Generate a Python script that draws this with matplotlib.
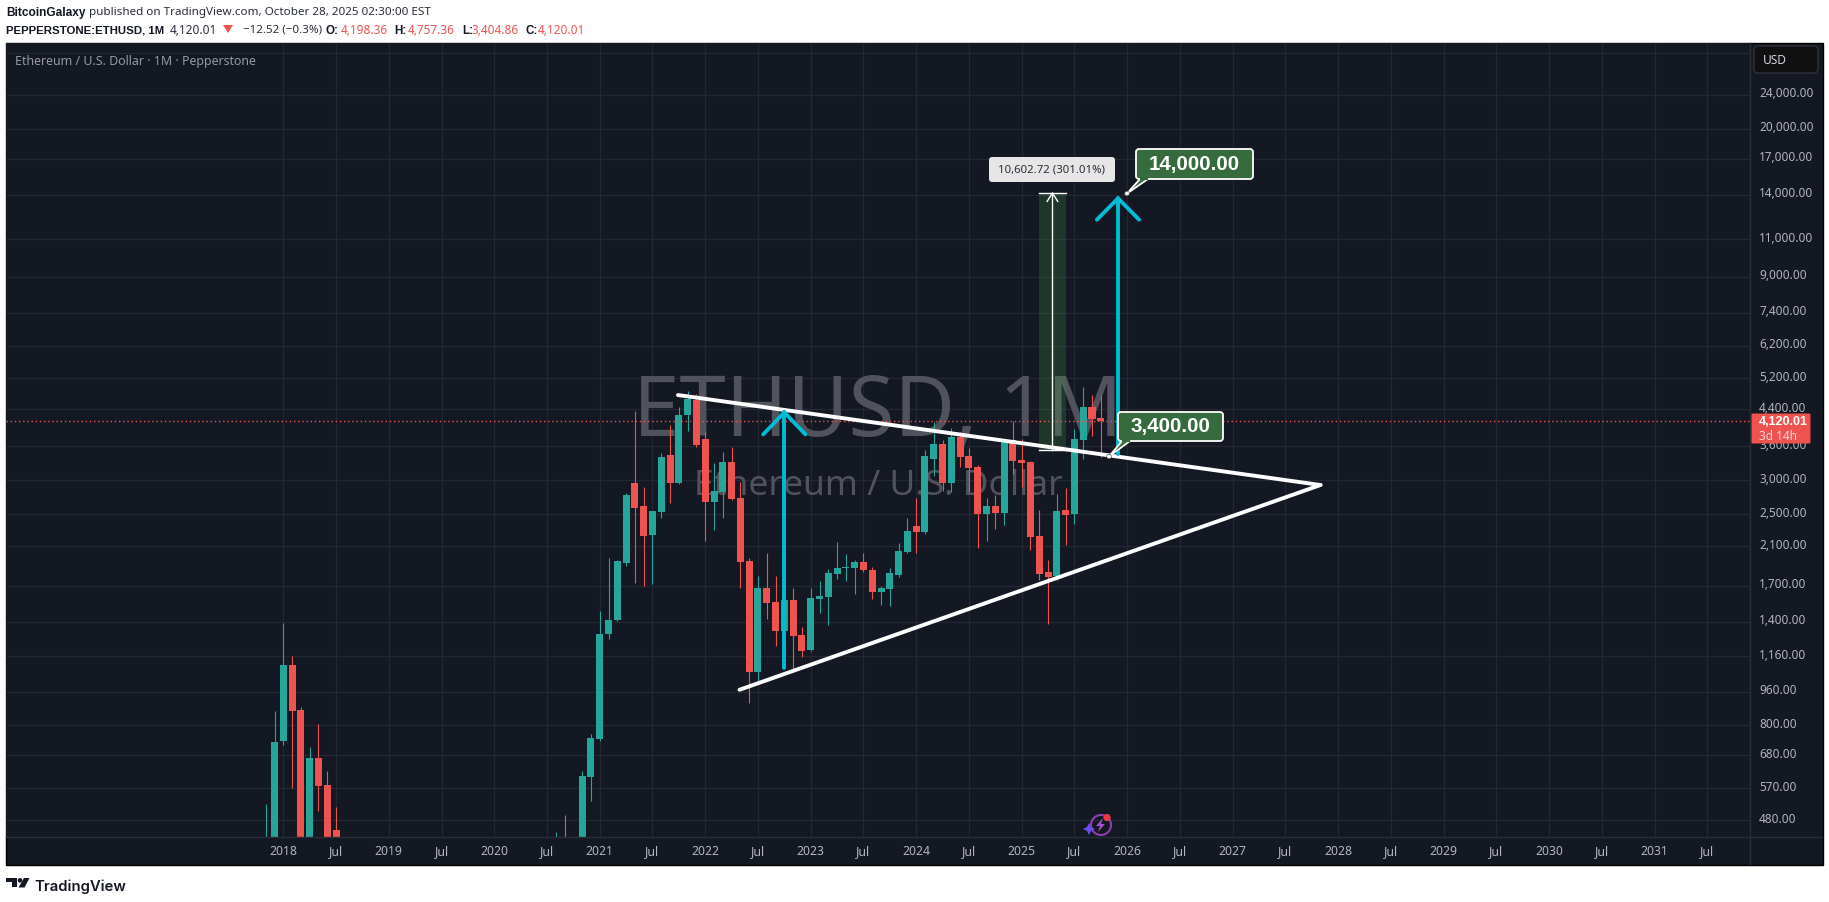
import numpy as np
import matplotlib
matplotlib.use('Agg')
import matplotlib.pyplot as plt
from matplotlib.patches import FancyBboxPatch, Polygon, Rectangle, Circle

# bougies mensuelles, index 0 = janvier 2018
bar_month = list(range(-2, 7)) + [31, 32] + list(range(34, 94))
bar_open = [300, 430, 736, 1107, 869, 395, 672, 581, 454, 380, 430,
            400, 607, 744, 1312, 1408, 1922, 2953, 2610, 2234, 2527, 3431, 2953, 4254, 4635,
            3740, 2667, 2815, 3306, 2725, 1943, 1066, 1681, 1559, 1327, 1576, 1299,
            1199, 1585, 1600, 1812, 1872, 1872, 1933, 1852, 1645, 1670, 1803, 2038,
            2345, 2274, 3372, 3654, 2953, 3781, 3414, 3218, 2501, 2610, 2514, 3720,
            3341, 3306, 2222, 1832, 1793, 2555, 2501, 3720, 4449, 4198.36]
bar_high = [522, 865, 1387, 1162, 883, 712, 806, 626, 516, 449, 492,
            626, 764, 1479, 1971, 1950, 2799, 4370, 2890, 2545, 3469, 4031, 4464, 4864, 4780,
            3883, 3288, 3487, 3582, 2969, 1971, 1793, 2028, 1793, 1663, 1681, 1356,
            1681, 1746, 1862, 2152, 2018, 1954, 2028, 1883, 1699, 1872, 2140, 2448,
            2725, 3525, 4097, 3720, 3966, 3883, 3563, 3254, 2725, 2769, 3740, 4119,
            3740, 3323, 2555, 1954, 2784, 2883, 3946, 4948, 4757, 4757.36]
bar_low = [290, 420, 720, 572, 365, 370, 505, 415, 390, 360, 320,
           370, 533, 735, 1274, 1403, 1885, 1727, 1699, 1717, 2448, 2652, 2945, 3904, 3582,
           2163, 2295, 2448, 2700, 1681, 903, 1010, 1423, 1225, 1201, 1077, 1155,
           1195, 1470, 1371, 1764, 1746, 1628, 1832, 1585, 1534, 1526, 1785, 2030,
           2028, 2251, 3066, 2829, 2815, 3218, 2810, 2084, 2163, 2307, 2357, 3097,
           2890, 2062, 1755, 1385, 1755, 2118, 2370, 3356, 3815, 3404.86]
bar_close = [430, 732, 1107, 865, 395, 672, 578, 435, 400, 430, 390,
             610, 748, 1312, 1415, 1943, 2769, 2582, 2222, 2541, 3395, 2953, 4254, 4660, 3621,
             2667, 2829, 3306, 2710, 1933, 1066, 1681, 1551, 1327, 1576, 1292, 1193,
             1593, 1610, 1822, 1872, 1883, 1933, 1852, 1645, 1681, 1822, 2050, 2282,
             2274, 3414, 3654, 2953, 3781, 3395, 3200, 2501, 2610, 2514, 3720, 3323,
             3288, 2210, 1812, 1785, 2541, 2487, 3740, 4464, 4165, 4120.01]

price_ticks = [30000, 24000, 20000, 17000, 14000, 11000, 9000, 7400, 6200, 5200, 4400, 3600,
               3000, 2500, 2100, 1700, 1400, 1160, 960, 800, 680, 570, 480]
time_ticks = list(range(0, 163, 6))
time_labels = []
for m in time_ticks:
    time_labels.append(str(2018 + m // 12) if m % 12 == 0 else 'Jul')

last_price = 4120.01
measure_low = 3522.2
measure_high = 14124.9

# lignes du triangle (mois, prix)
tri_top_x, tri_top_y = [44.9, 118], [4750, 2924]
tri_low_x, tri_low_y = [51.9, 118], [969, 2924]

W, H = 1829, 903
BG = '#141822'
GRID = '#232732'
LINE = '#2a2e39'
GREEN = '#26a69a'
RED = '#ef5350'
CYAN = '#00bcd4'
TXT = '#b2b5be'
BOLD = 'Liberation Sans'
plt.rcParams['font.family'] = ['Noto Sans', 'DejaVu Sans']

fig = plt.figure(figsize=(W / 100, H / 100), dpi=100, facecolor='white')

# fond et textes en pixels
back = fig.add_axes([0, 0, 1, 1], zorder=0)
back.set_xlim(0, W)
back.set_ylim(H, 0)
back.axis('off')
back.add_patch(Rectangle((5.5, 43.5), 1817, 823, fc=BG, ec='#000000', lw=1))

# zone du graphique
left, right, top, bottom = 6, 1750, 44, 838.3
ax = fig.add_axes([left / W, 1 - bottom / H, (right - left) / W, (bottom - top) / H], zorder=1)
ax.set_facecolor(BG)
ax.set_yscale('log')
ax.set_xlim(-31.55, 166.86)
ax.set_ylim(437.3, 31718)
for s in ax.spines.values():
    s.set_visible(False)
ax.set_xticks([])
ax.set_yticks([])
ax.minorticks_off()
ax.tick_params(which='both', length=0, labelleft=False, labelbottom=False)
ax.hlines(price_ticks, -31.55, 166.86, color=GRID, lw=1, zorder=1)
ax.vlines(time_ticks, 437.3, 31718, color=GRID, lw=1, zorder=1)

# filigrane
ax.text(0.5, 1 - (414 - top) / (bottom - top), 'ETHUSD, 1M', transform=ax.transAxes, ha='center', va='center',
        fontsize=60, color='#50525c', zorder=2)
ax.text(0.5, 1 - (486 - top) / (bottom - top), 'Ethereum / U.S. Dollar', transform=ax.transAxes, ha='center',
        va='center', fontsize=25.5, color='#50525c', zorder=2)

# zone de mesure
ax.add_patch(Rectangle((86, measure_low), 3, measure_high - measure_low, fc='#4caf50', alpha=0.2, lw=0, zorder=3))

# bougies
o = np.array(bar_open)
h = np.array(bar_high)
l = np.array(bar_low)
c = np.array(bar_close)
x = np.array(bar_month)
col = [GREEN if b >= a else RED for a, b in zip(o, c)]
ax.vlines(x, l, h, color=col, lw=0.8, zorder=4)
ax.bar(x, np.abs(c - o), bottom=np.minimum(o, c), width=0.8, color=col, lw=0, zorder=5)

ax.axhline(last_price, color=RED, lw=1, ls=(0, (1, 2)), zorder=6)

# mesure : fleche blanche
ax.plot([87.5, 87.5], [measure_low, measure_high], color='white', lw=1, zorder=7)
ax.plot([86, 89], [measure_low, measure_low], color='white', lw=1, zorder=7)
ax.plot([86, 89], [measure_high, measure_high], color='white', lw=1, zorder=7)
ax.plot([86.9, 87.5, 88.1], [13500, measure_high, 13500], color='white', lw=1, zorder=7)

# triangle
ax.plot(tri_top_x, tri_top_y, color='white', lw=2.8, solid_capstyle='round', zorder=8)
ax.plot(tri_low_x, tri_low_y, color='white', lw=2.8, solid_capstyle='round', zorder=8)

# fleches cyan
ax.plot([57, 57], [1092, 4327], color=CYAN, lw=2.8, solid_capstyle='round', zorder=9)
ax.plot([54.6, 57, 59.4], [3842, 4327, 3842], color=CYAN, lw=2.8, solid_capstyle='round',
        solid_joinstyle='miter', zorder=9)
ax.plot([94.96, 94.96], [3456, 13725], color=CYAN, lw=2.8, solid_capstyle='round', zorder=9)
ax.plot([92.56, 94.96, 97.36], [12230, 13725, 12230], color=CYAN, lw=2.8, solid_capstyle='round',
        solid_joinstyle='miter', zorder=9)

# surcouche en pixels
over = fig.add_axes([0, 0, 1, 1], zorder=2)
over.set_xlim(0, W)
over.set_ylim(H, 0)
over.axis('off')
over.patch.set_alpha(0)

# axes droit et bas
over.plot([right, right], [44, 866], color=LINE, lw=1)
over.plot([6, 1822], [838.3, 838.3], color=LINE, lw=1)

to_px = lambda mx, p: over.transData.inverted().transform(ax.transData.transform((mx, p)))

for p in price_ticks[1:]:
    y = to_px(0, p)[1]
    over.text(1759, y - 2, f'{p:,.2f}', color=TXT, fontsize=8.5, va='center', ha='left')
for m, lab in zip(time_ticks, time_labels):
    xp = to_px(m, 1000)[0]
    over.text(xp, 852, lab, color=TXT, fontsize=8.8, va='center', ha='center',
              fontweight='semibold' if lab != 'Jul' else 'normal')

# bouton USD
over.add_patch(FancyBboxPatch((1757, 50), 58, 21, boxstyle='round,pad=3,rounding_size=4', fc='#101010', ec='#2f323b', lw=1))
over.text(1763, 61, 'USD', color='#d1d4dc', fontsize=8.6, va='center')

# etiquette de prix
over.add_patch(FancyBboxPatch((1752, 415), 58, 29, boxstyle='round,pad=0.5,rounding_size=1.5', fc=RED, ec=RED, lw=0, zorder=5))
over.text(1759, 422.5, '4,120.01', color='white', fontsize=9, fontweight='bold', family=BOLD, va='center', zorder=6)
over.text(1759, 436.5, '3d 14h', color='#fbd5d4', fontsize=8.5, va='center', zorder=6)


def callout(label, box, tail, anchor, fs=14.8):
    x0, y0, x1, y1 = box
    over.add_patch(Polygon([tail[0], anchor, tail[1]], closed=True, fc='#366b3e', ec='white', lw=1.3, zorder=7))
    over.add_patch(FancyBboxPatch((x0 + 3, y0 + 3), x1 - x0 - 6, y1 - y0 - 6, boxstyle='round,pad=3,rounding_size=3',
                                  fc='#366b3e', ec='white', lw=1.3, zorder=8))
    over.plot([tail[0][0] + 1, tail[1][0] - 1], [y1, y1], color='#366b3e', lw=1.6, zorder=9)
    over.add_patch(Circle(anchor, 2.3, fc='white', ec='#333333', lw=0.4, zorder=10))
    over.text((x0 + x1) / 2, (y0 + y1) / 2 - 0.5, label, color='white', fontsize=fs, fontweight='bold', family=BOLD,
              ha='center', va='center', zorder=11)


callout('14,000.00', (1136, 150, 1253, 180), [(1140, 180), (1148, 180)], (1127, 194.5))
callout('3,400.00', (1118, 413, 1223, 442), [(1122, 442), (1130, 442)], (1109, 457.5))

# etiquette de la mesure
over.add_patch(FancyBboxPatch((991, 160), 122, 21, boxstyle='round,pad=2,rounding_size=3', fc='#e6e6e6', ec='none', zorder=6))
over.text(1052, 170.5, '10,602.72 (301.01%)', color='#2a2e39', fontsize=8.2, ha='center', va='center', zorder=7)

# icone
over.add_patch(Circle((1101, 826), 10, fc='none', ec='#8e3fb0', lw=1.5))
over.add_patch(Polygon([(1103, 819), (1096, 827), (1100, 827), (1098, 833), (1105, 825), (1101, 825)], fc='#a64fd0', lw=0))
over.add_patch(Circle((1107, 818.5), 3.6, fc='#f23645', lw=0))
over.add_patch(Polygon([(1089, 824), (1091, 828), (1095, 830), (1091, 832), (1089, 836), (1087, 832), (1083, 830), (1087, 828)],
                       fc='#6a4df0', lw=0))

# titres
over.text(15, 61, 'Ethereum / U.S. Dollar · 1M · Pepperstone', color='#9598a1', fontsize=8.95, va='center')

over.text(6, 13, 'BitcoinGalaxy', color='#131722', fontsize=8.6, fontweight='bold', family=BOLD, va='center')
over.text(89, 13, 'published on TradingView.com, October 28, 2025 02:30:00 EST', color='#2a2e39', fontsize=8.4, va='center')

over.text(6, 30.5, 'PEPPERSTONE:ETHUSD, 1M', color='#131722', fontsize=8.2, fontweight='bold', family=BOLD, va='center')
over.text(170, 30.5, '4,120.01', color='#2a2e39', fontsize=8.5, va='center')
over.add_patch(Polygon([(223, 26), (233, 26), (228, 34)], fc=RED, lw=0))
over.text(243, 30.5, '−12.52 (−0.3%)', color='#2a2e39', fontsize=8.3, va='center')
for lab, lx, val, vx in [('O:', 326, '4,198.36', 341), ('H:', 394, '4,757.36', 408),
                         ('L:', 462, '3,404.86', 472), ('C:', 526, '4,120.01', 538)]:
    over.text(lx, 30.5, lab, color='#131722', fontsize=8.4, fontweight='bold', family=BOLD, va='center')
    over.text(vx, 30.5, val, color=RED, fontsize=8.5, va='center')

# logo TradingView
over.add_patch(Polygon([(6, 879), (17, 879), (17, 888.5), (12, 888.5), (12, 883.5), (6, 883.5)], fc='#131722', lw=0))
over.add_patch(Circle((20, 881.3), 2.3, fc='#131722', lw=0))
over.add_patch(Polygon([(24, 879), (29.5, 879), (24.5, 888.5), (18.5, 888.5)], fc='#131722', lw=0))
over.text(34, 886.5, 'TradingView', color='#131722', fontsize=10.7, fontweight='semibold', family='Inter', va='center')

fig.savefig('out.png', dpi=100, facecolor='white')
